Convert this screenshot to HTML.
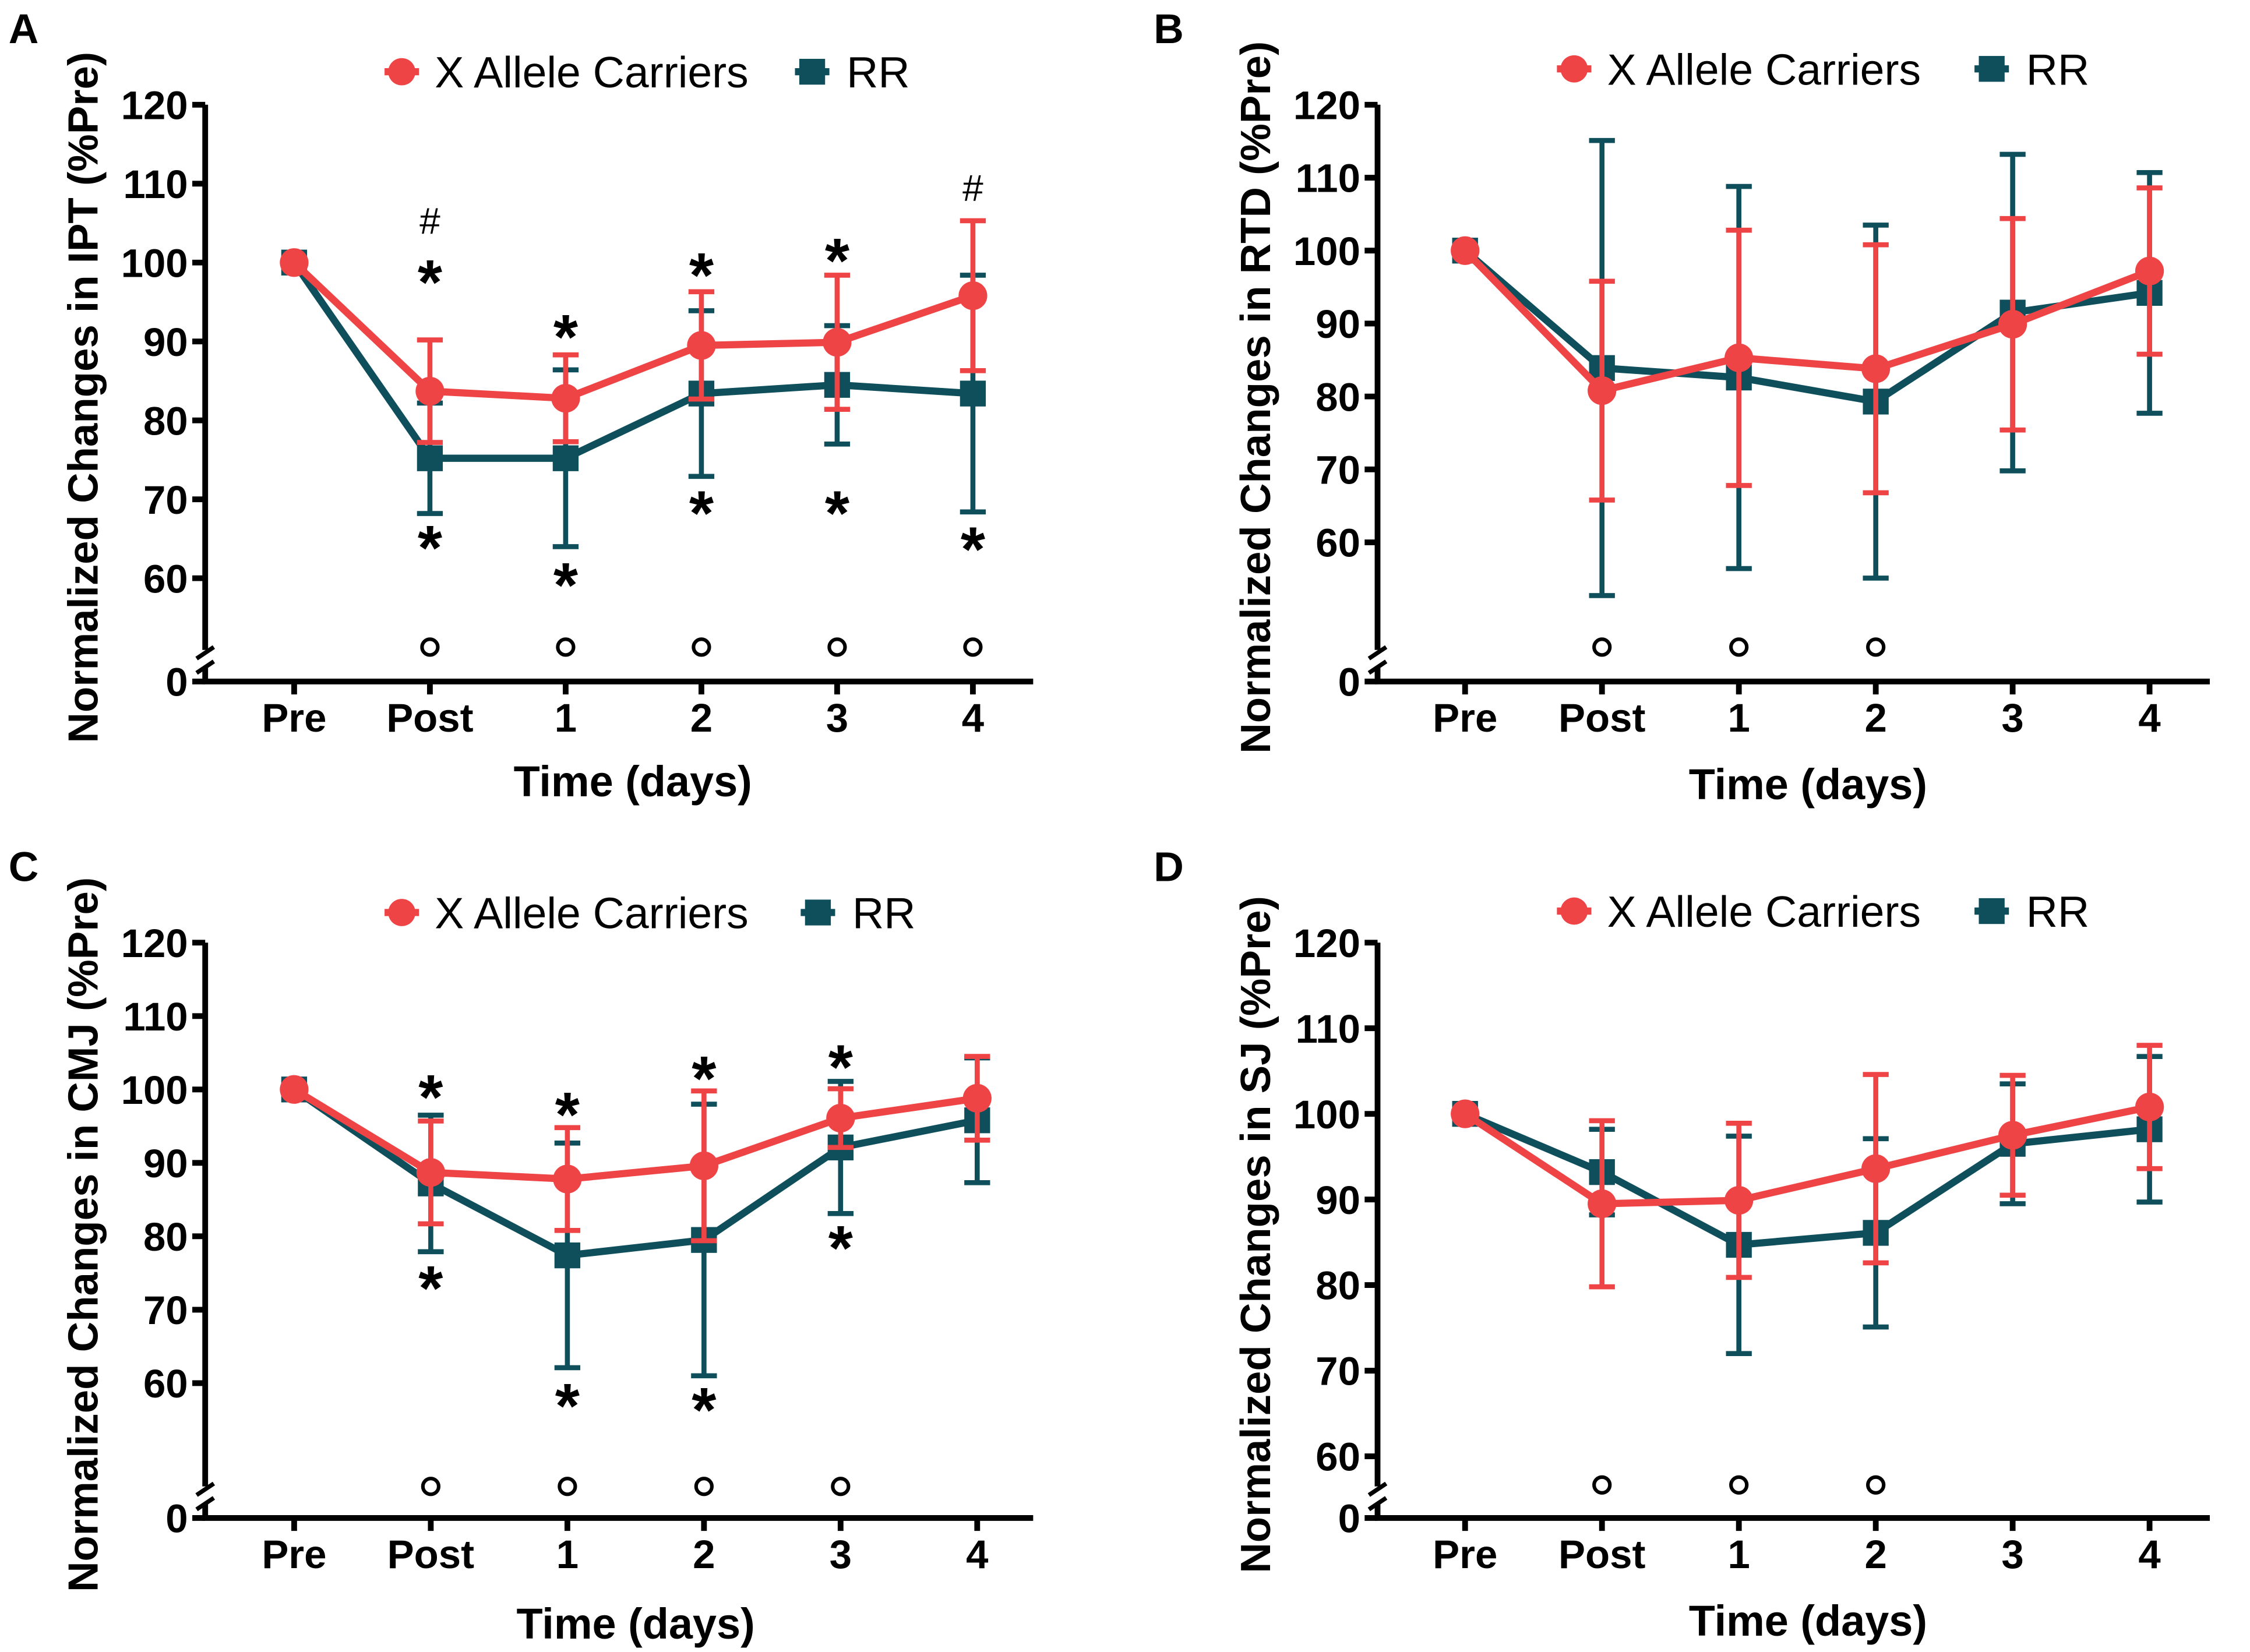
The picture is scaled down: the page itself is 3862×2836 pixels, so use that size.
<!DOCTYPE html>
<html><head><meta charset="utf-8"><style>
html,body{margin:0;padding:0;background:#fff}
svg{display:block}
text{font-family:"Liberation Sans",Arial,sans-serif}
</style></head><body>
<svg id="fig" width="3862" height="2836" viewBox="0 0 1568 1151.4" preserveAspectRatio="none" xmlns="http://www.w3.org/2000/svg"></svg>
<script>
const categories = ["Pre","Post","1","2","3","4"];
const yTicks = [120,110,100,90,80,70,60];
// Panel A (IPT)
const aX = [100,83.7,82.8,89.5,89.9,95.8];
const aXe = [0,6.5,5.5,6.8,8.5,9.5];
const aR = [100,75.2,75.2,83.4,84.5,83.4];
const aRe = [0,7,11.2,10.5,7.5,15];
// Panel B (RTD)
const bX = [100,80.8,85.3,83.8,89.9,97.2];
const bXe = [0,15,17.5,17,14.5,11.4];
const bR = [100,83.9,82.6,79.3,91.5,94.2];
const bRe = [0,31.2,26.2,24.2,21.7,16.5];
// Panel C (CMJ)
const cX = [100,88.7,87.8,89.6,96.1,98.8];
const cXe = [0,7,7,10.2,4,5.7];
const cR = [100,87.2,77.4,79.5,92.1,95.8];
const cRe = [0,9.3,15.3,18.5,9,8.5];
// Panel D (SJ)
const dX = [100,89.5,89.9,93.6,97.5,100.8];
const dXe = [0,9.7,9,11,7,7.2];
const dR = [100,93.2,84.7,86.1,96.5,98.2];
const dRe = [0,5,12.7,11,7,8.5];

const RED="#ef4446", TEAL="#0f4f5c";
const svg=document.getElementById('fig');
const NS="http://www.w3.org/2000/svg";
function mk(tag,attrs,parent,txt){const e=document.createElementNS(NS,tag);for(const k in attrs)e.setAttribute(k,attrs[k]);if(txt!==undefined)e.textContent=txt;(parent||svg).appendChild(e);return e;}

const panels=[
 {id:'a',letter:'A',lx:6,ly:30,ax:143,x0:205,dx:94.6,y120:73,y60:403,yZero:475,xEnd:720,label:'Normalized Changes in IPT (%Pre)',X:aX,Xe:aXe,R:aR,Re:aRe,legY:50,legX:280,rrX:566,xl:'Time  (days)',xlx:441,xly:555,
  ann:[['#',1,163],['*',1,196],['*',1,381],['*',2,234],['*',2,407],['*',3,191],['*',3,357],['*',4,181],['*',4,357],['#',5,140],['*',5,382]],circ:[1,2,3,4,5],cy:451},
 {id:'b',letter:'B',lx:804,ly:30,ax:960,x0:1021,dx:95.4,y120:73,y60:378,yZero:475,xEnd:1540,label:'Normalized Changes in RTD (%Pre)',X:bX,Xe:bXe,R:bR,Re:bRe,legY:48,legX:1097,rrX:1388,xl:'Time (days)',xlx:1260,xly:557,ann:[],circ:[1,2,3],cy:451},
 {id:'c',letter:'C',lx:6,ly:614,ax:143,x0:205,dx:95.2,y120:657,y60:964,yZero:1058,xEnd:720,label:'Normalized Changes in CMJ (%Pre)',X:cX,Xe:cXe,R:cR,Re:cRe,legY:636,legX:280,rrX:570,xl:'Time (days)',xlx:443,xly:1142,
  ann:[['*',1,764],['*',1,897],['*',2,776],['*',2,979],['*',3,751],['*',3,982],['*',4,743],['*',4,869]],circ:[1,2,3,4],cy:1036},
 {id:'d',letter:'D',lx:804,ly:614,ax:960,x0:1021,dx:95.4,y120:657,y60:1015,yZero:1058,xEnd:1540,label:'Normalized Changes in SJ (%Pre)',X:dX,Xe:dXe,R:dR,Re:dRe,legY:635,legX:1097,rrX:1388,xl:'Time (days)',xlx:1260,xly:1140,ann:[],circ:[1,2,3],cy:1035}
];

panels.forEach(p=>{
 const g=mk('g',{});  
 const yS=v=>p.y120+(120-v)*(p.y60-p.y120)/60;
 const xS=i=>p.x0+i*p.dx;
 const lt=mk('text',{x:p.lx,y:p.ly,'font-size':29,'font-weight':'bold'},g,p.letter);
  
 const ya=mk('path',{d:`M${p.ax} ${p.y120}V${p.yZero-22}M${p.ax} ${p.yZero-10}V${p.yZero}H${p.xEnd}`,stroke:'#000','stroke-width':4,fill:'none'},g);
  
 mk('path',{d:`M${p.ax-6} ${p.yZero-16}l12 -8M${p.ax-6} ${p.yZero-6}l12 -8`,stroke:'#000','stroke-width':3},g);
 yTicks.forEach(t=>{const y=yS(t);
  mk('line',{x1:p.ax-9,x2:p.ax,y1:y,y2:y,stroke:'#000','stroke-width':4},g);
  const tl=mk('text',{x:p.ax-12,y:y+10,'font-size':28,'font-weight':'bold','text-anchor':'end'},g,t);
   });
 mk('line',{x1:p.ax-9,x2:p.ax,y1:p.yZero,y2:p.yZero,stroke:'#000','stroke-width':4},g);
 mk('text',{x:p.ax-12,y:p.yZero+10,'font-size':28,'font-weight':'bold','text-anchor':'end'},g,'0');
 categories.forEach((c,i)=>{const x=xS(i);
  mk('line',{x1:x,x2:x,y1:p.yZero,y2:p.yZero+9,stroke:'#000','stroke-width':4},g);
  const tl=mk('text',{x:x,y:p.yZero+35,'font-size':28,'font-weight':'bold','text-anchor':'middle'},g,c);
   });
 const yl=mk('text',{x:0,y:0,transform:`translate(${p.ax-75},${(p.y120+p.yZero)/2+3}) rotate(-90)`,'font-size':29.5,'font-weight':'bold','text-anchor':'middle'},g,p.label);
  
 const xl=mk('text',{x:p.xlx,y:p.xly,'font-size':30,'font-weight':'bold','text-anchor':'middle'},g,p.xl);
  
 [[p.R,p.Re,TEAL,'rr'],[p.X,p.Xe,RED,'x-allele']].forEach(([v,e,col,nm])=>{
  const sg=mk('g',{},g);  
  v.forEach((val,i)=>{ if(e[i]<=0) return; const x=xS(i);
   const eb=mk('path',{d:`M${x} ${yS(val-e[i])}V${yS(val+e[i])}M${x-9} ${yS(val-e[i])}h18M${x-9} ${yS(val+e[i])}h18`,stroke:col,'stroke-width':3.5,fill:'none'},sg);
    });
  mk('polyline',{points:v.map((val,i)=>xS(i)+','+yS(val)).join(' '),stroke:col,'stroke-width':5,fill:'none'},sg);
  v.forEach((val,i)=>{const x=xS(i),y=yS(val); let m;
   if(nm==='rr') m=mk('rect',{x:x-9,y:y-9,width:18,height:18,fill:col},sg);
   else m=mk('circle',{cx:x,cy:y,r:10,fill:col},sg);
    });
 });
 p.ann.forEach(([s,i,y])=>{const t=mk('text',{x:xS(i),y:y+(s==='*'?16:0),'font-size':s==='*'?44:26,'font-weight':s==='*'?'bold':'normal','text-anchor':'middle'},g,s);
   });
 p.circ.forEach(i=>{const c=mk('circle',{cx:xS(i),cy:p.cy,r:5.5,fill:'none',stroke:'#000','stroke-width':2.5},g);
   });
 const lg=mk('g',{},g);  
 const e1=mk('g',{},lg);  
 mk('line',{x1:p.legX-12,x2:p.legX+12,y1:p.legY,y2:p.legY,stroke:RED,'stroke-width':5},e1);
 mk('circle',{cx:p.legX,cy:p.legY,r:9.5,fill:RED},e1);
 mk('text',{x:p.legX+23,y:p.legY+11,'font-size':30.5},e1,'X Allele Carriers');
 const e2=mk('g',{},lg);  
 mk('line',{x1:p.rrX-12,x2:p.rrX+12,y1:p.legY,y2:p.legY,stroke:TEAL,'stroke-width':5},e2);
 mk('rect',{x:p.rrX-9,y:p.legY-9,width:18,height:18,fill:TEAL},e2);
 mk('text',{x:p.rrX+24,y:p.legY+11,'font-size':30.5},e2,'RR');
});
</script>
</body></html>
